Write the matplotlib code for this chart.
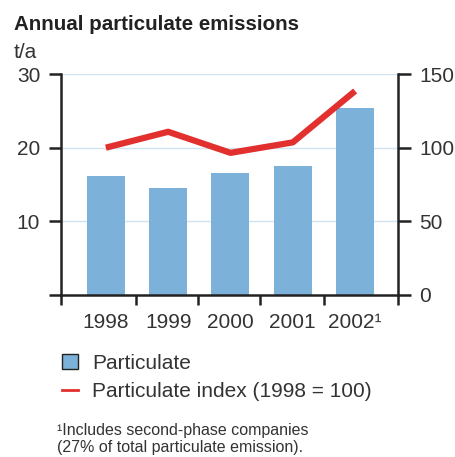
import numpy as np
import matplotlib.pyplot as plt
from matplotlib.patches import Patch
from matplotlib.lines import Line2D

plt.rcParams['font.family'] = ['Liberation Sans', 'DejaVu Sans']

years = ['1998', '1999', '2000', '2001', '2002\u00b9']
particulate = [16.2, 14.5, 16.6, 17.5, 25.4]      # t/a, left axis
index = [100, 110.8, 96.5, 103.6, 138.5]           # 1998 = 100, right axis

bar_color = '#7cb2da'
red = '#e2302f'
dark = '#222222'
txt = '#333333'

fig = plt.figure(figsize=(4.55, 4.57), dpi=100)
ax = fig.add_axes([0.134, 0.3545, 0.741, 0.4835])
x = np.arange(len(years))

ax.bar(x, particulate, width=0.61, color=bar_color, zorder=2)
ax.set_ylim(0, 30)
ax.set_xlim(-0.72, 4.69)
ax.set_yticks([0, 10, 20, 30])
ax.set_yticklabels(['', '10', '20', '30'])
for v in [10, 20, 30]:
    ax.axhline(v, color='#cfe3f2', lw=1, zorder=1)

ax.set_xticks(x)
ax.set_xticklabels(years)
ax.set_xticks([-0.72, 0.48, 1.48, 2.48, 3.5, 4.69], minor=True)
ax.tick_params(axis='x', which='major', length=0, pad=13, labelsize=15, labelcolor=txt)
ax.tick_params(axis='x', which='minor', length=7, width=1.8, color=dark, direction='out')
ax.tick_params(axis='y', length=9, width=1.8, color=dark, pad=6, labelsize=15, labelcolor=txt)

for s in ['top', 'right']:
    ax.spines[s].set_visible(False)
for s in ['left', 'bottom']:
    ax.spines[s].set_color(dark)
    ax.spines[s].set_linewidth(1.8)

ax2 = ax.twinx()
ax2.plot(x, index, color=red, lw=4.5, solid_capstyle='butt', zorder=3)
ax2.set_ylim(0, 150)
ax2.set_yticks([0, 50, 100, 150])
ax2.tick_params(axis='y', length=9, width=1.8, color=dark, pad=6, labelsize=15, labelcolor=txt)
for s in ['top', 'left', 'bottom']:
    ax2.spines[s].set_visible(False)
ax2.spines['right'].set_color(dark)
ax2.spines['right'].set_linewidth(1.8)

fig.text(0.031, 0.947, 'Annual particulate emissions', fontsize=14.8, fontweight='bold',
         color='#222222', va='center')
fig.text(0.031, 0.886, 't/a', fontsize=15, color=txt, va='center')

handles = [Patch(facecolor=bar_color, edgecolor=dark, linewidth=1),
           Line2D([], [], color=red, lw=2)]
fig.legend(handles, ['Particulate', 'Particulate index (1998 = 100)'],
           loc='upper left', bbox_to_anchor=(0.10, 0.262), frameon=False,
           fontsize=15, handlelength=0.75, handleheight=0.75, handletextpad=0.7,
           labelspacing=0.45, labelcolor=txt, borderpad=0.3)

fig.text(0.125, 0.039, '\u00b9Includes second-phase companies\n(27% of total particulate emission).',
         fontsize=11.5, color=txt, va='center', linespacing=1.15)

fig.savefig('out.png', dpi=100)
